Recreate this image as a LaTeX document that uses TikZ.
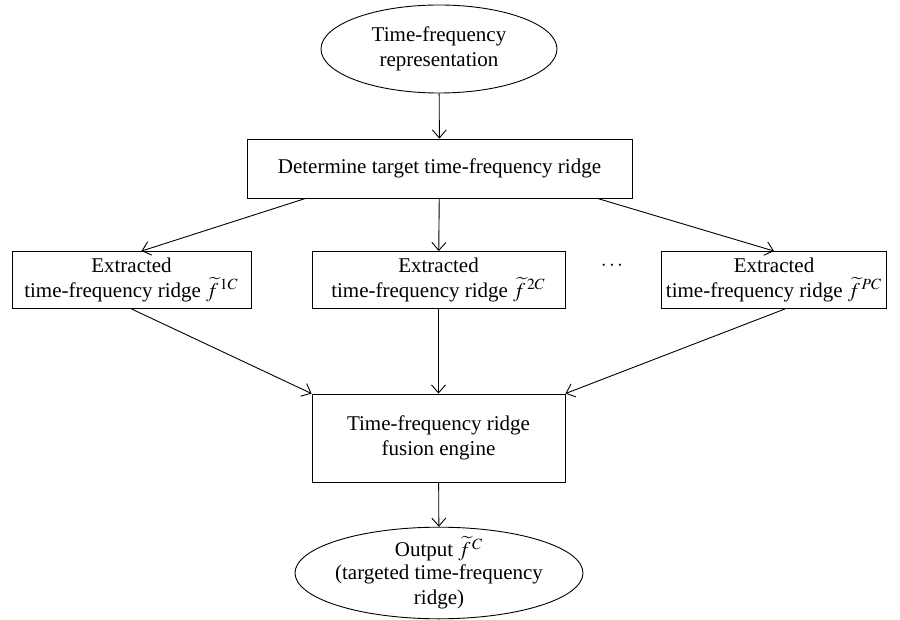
\documentclass[tikz,border=0pt]{standalone}
\usepackage{mathptmx}
\usepackage{fontspec}
\setmainfont{Liberation Serif}
\usetikzlibrary{shapes.geometric,arrows.meta}
\begin{document}
\begin{tikzpicture}[>={Straight Barb[length=4pt,width=7pt]},x=0.5pt,y=-0.5pt,
    line width=0.45pt,font=\fontsize{10.5}{12.5}\selectfont,
    oval/.style={draw,ellipse,inner sep=-2pt,align=center},
    blk/.style={draw,rectangle,inner sep=1pt,align=center}]
    \useasboundingbox (0,0) rectangle (900,620);
    \node[oval,minimum width=118pt,minimum height=44pt] (rep) at (439,49)
        {Time-frequency\\representation};
    \node[blk,minimum width=192.5pt,minimum height=29.5pt] (det) at (439.5,168.5)
        {Determine target time-frequency ridge};
    \node[blk,minimum width=119.5pt,minimum height=28.5pt] (ex1) at (131.5,280)
        {Extracted\\time-frequency ridge ${\widetilde{f}}^{\,1C}$};
    \node[blk,minimum width=126.5pt,minimum height=28.5pt] (ex2) at (438.5,280)
        {Extracted\\time-frequency ridge ${\widetilde{f}}^{\,2C}$};
    \node[blk,minimum width=112.5pt,minimum height=28.5pt] (ex3) at (774,280)
        {Extracted\\time-frequency ridge ${\widetilde{f}}^{\,PC}$};
    \node (dots) at (612,266) {$\cdots$};
    \node[blk,minimum width=126.5pt,minimum height=44pt] (fus) at (438.5,438)
        {Time-frequency ridge\\fusion engine};
    \node[oval,minimum width=144pt,minimum height=45pt] (out) at (439,573)
        {Output ${\widetilde{f}}^{\,C}$\\[-1pt](targeted time-frequency\\ridge)};
    % connectors
    \draw[->] (rep) -- (det);
    \draw[->] ([xshift=-67pt]det.south) -- ([xshift=5pt]ex1.north);
    \draw[->] (det) -- (ex2);
    \draw[->] ([xshift=79pt]det.south) -- (ex3.north);
    \draw[->] (ex1.south) -- (fus.north west);
    \draw[->] (ex2) -- (fus);
    \draw[->] ([xshift=5.5pt]ex3.south) -- (fus.north east);
    \draw[->] (fus) -- (out);
\end{tikzpicture}
\end{document}
